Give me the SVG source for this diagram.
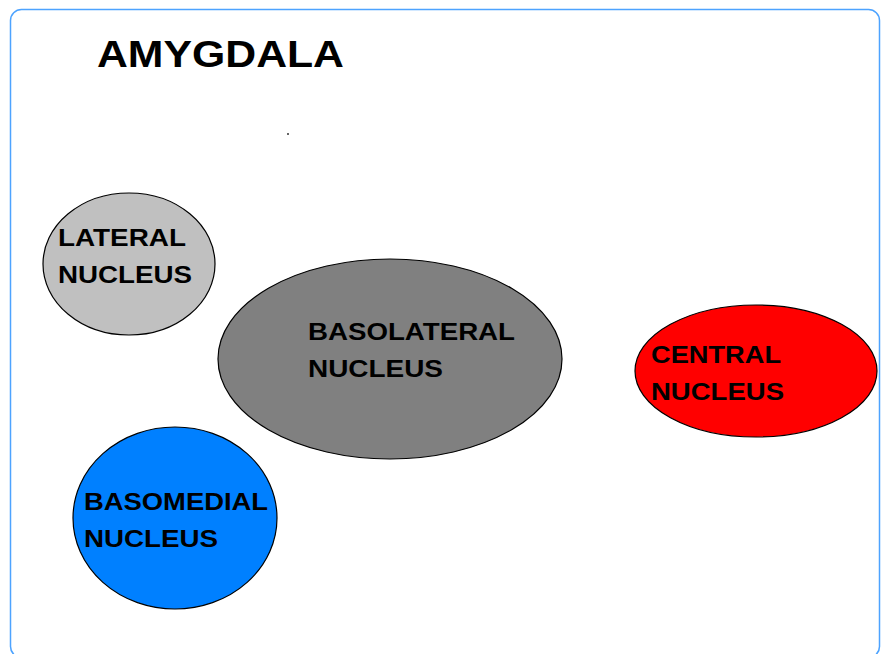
<svg xmlns="http://www.w3.org/2000/svg" width="883" height="654" viewBox="0 0 883 654">
<style>
.frame{fill:#ffffff;stroke:#4da3ff;stroke-width:1.5}
.nuc{stroke:#000000;stroke-width:1.2}
.lbl{font-family:"Liberation Sans",Arial,sans-serif;font-weight:bold;font-size:24px;fill:#000000}
.title{font-family:"Liberation Sans",Arial,sans-serif;font-weight:bold;font-size:37px;fill:#000000}
</style>
<rect width="883" height="654" fill="#ffffff"/>
<rect class="frame" x="10.5" y="9.5" width="869" height="648" rx="11"/>
<text class="title" x="97" y="67" textLength="247" lengthAdjust="spacingAndGlyphs">AMYGDALA</text>
<rect x="287" y="133" width="2" height="2" fill="#666666"/>
<g id="connectors"></g>
<g id="lateral">
<ellipse class="nuc" cx="129" cy="264" rx="86" ry="71" fill="#c0c0c0"/>
<text class="lbl" x="58" y="246" textLength="128" lengthAdjust="spacingAndGlyphs">LATERAL</text>
<text class="lbl" x="58" y="283" textLength="134" lengthAdjust="spacingAndGlyphs">NUCLEUS</text>
</g>
<g id="basolateral">
<ellipse class="nuc" cx="390" cy="359" rx="172" ry="100" fill="#808080"/>
<text class="lbl" x="308" y="340" textLength="207" lengthAdjust="spacingAndGlyphs">BASOLATERAL</text>
<text class="lbl" x="308" y="377" textLength="135" lengthAdjust="spacingAndGlyphs">NUCLEUS</text>
</g>
<g id="central">
<ellipse class="nuc" cx="756" cy="371" rx="121" ry="66" fill="#ff0000"/>
<text class="lbl" x="651" y="363" textLength="130" lengthAdjust="spacingAndGlyphs">CENTRAL</text>
<text class="lbl" x="651" y="400" textLength="133" lengthAdjust="spacingAndGlyphs">NUCLEUS</text>
</g>
<g id="basomedial">
<ellipse class="nuc" cx="175" cy="518" rx="102" ry="91" fill="#0080ff"/>
<text class="lbl" x="84" y="510" textLength="184" lengthAdjust="spacingAndGlyphs">BASOMEDIAL</text>
<text class="lbl" x="84" y="547" textLength="134" lengthAdjust="spacingAndGlyphs">NUCLEUS</text>
</g>
</svg>
